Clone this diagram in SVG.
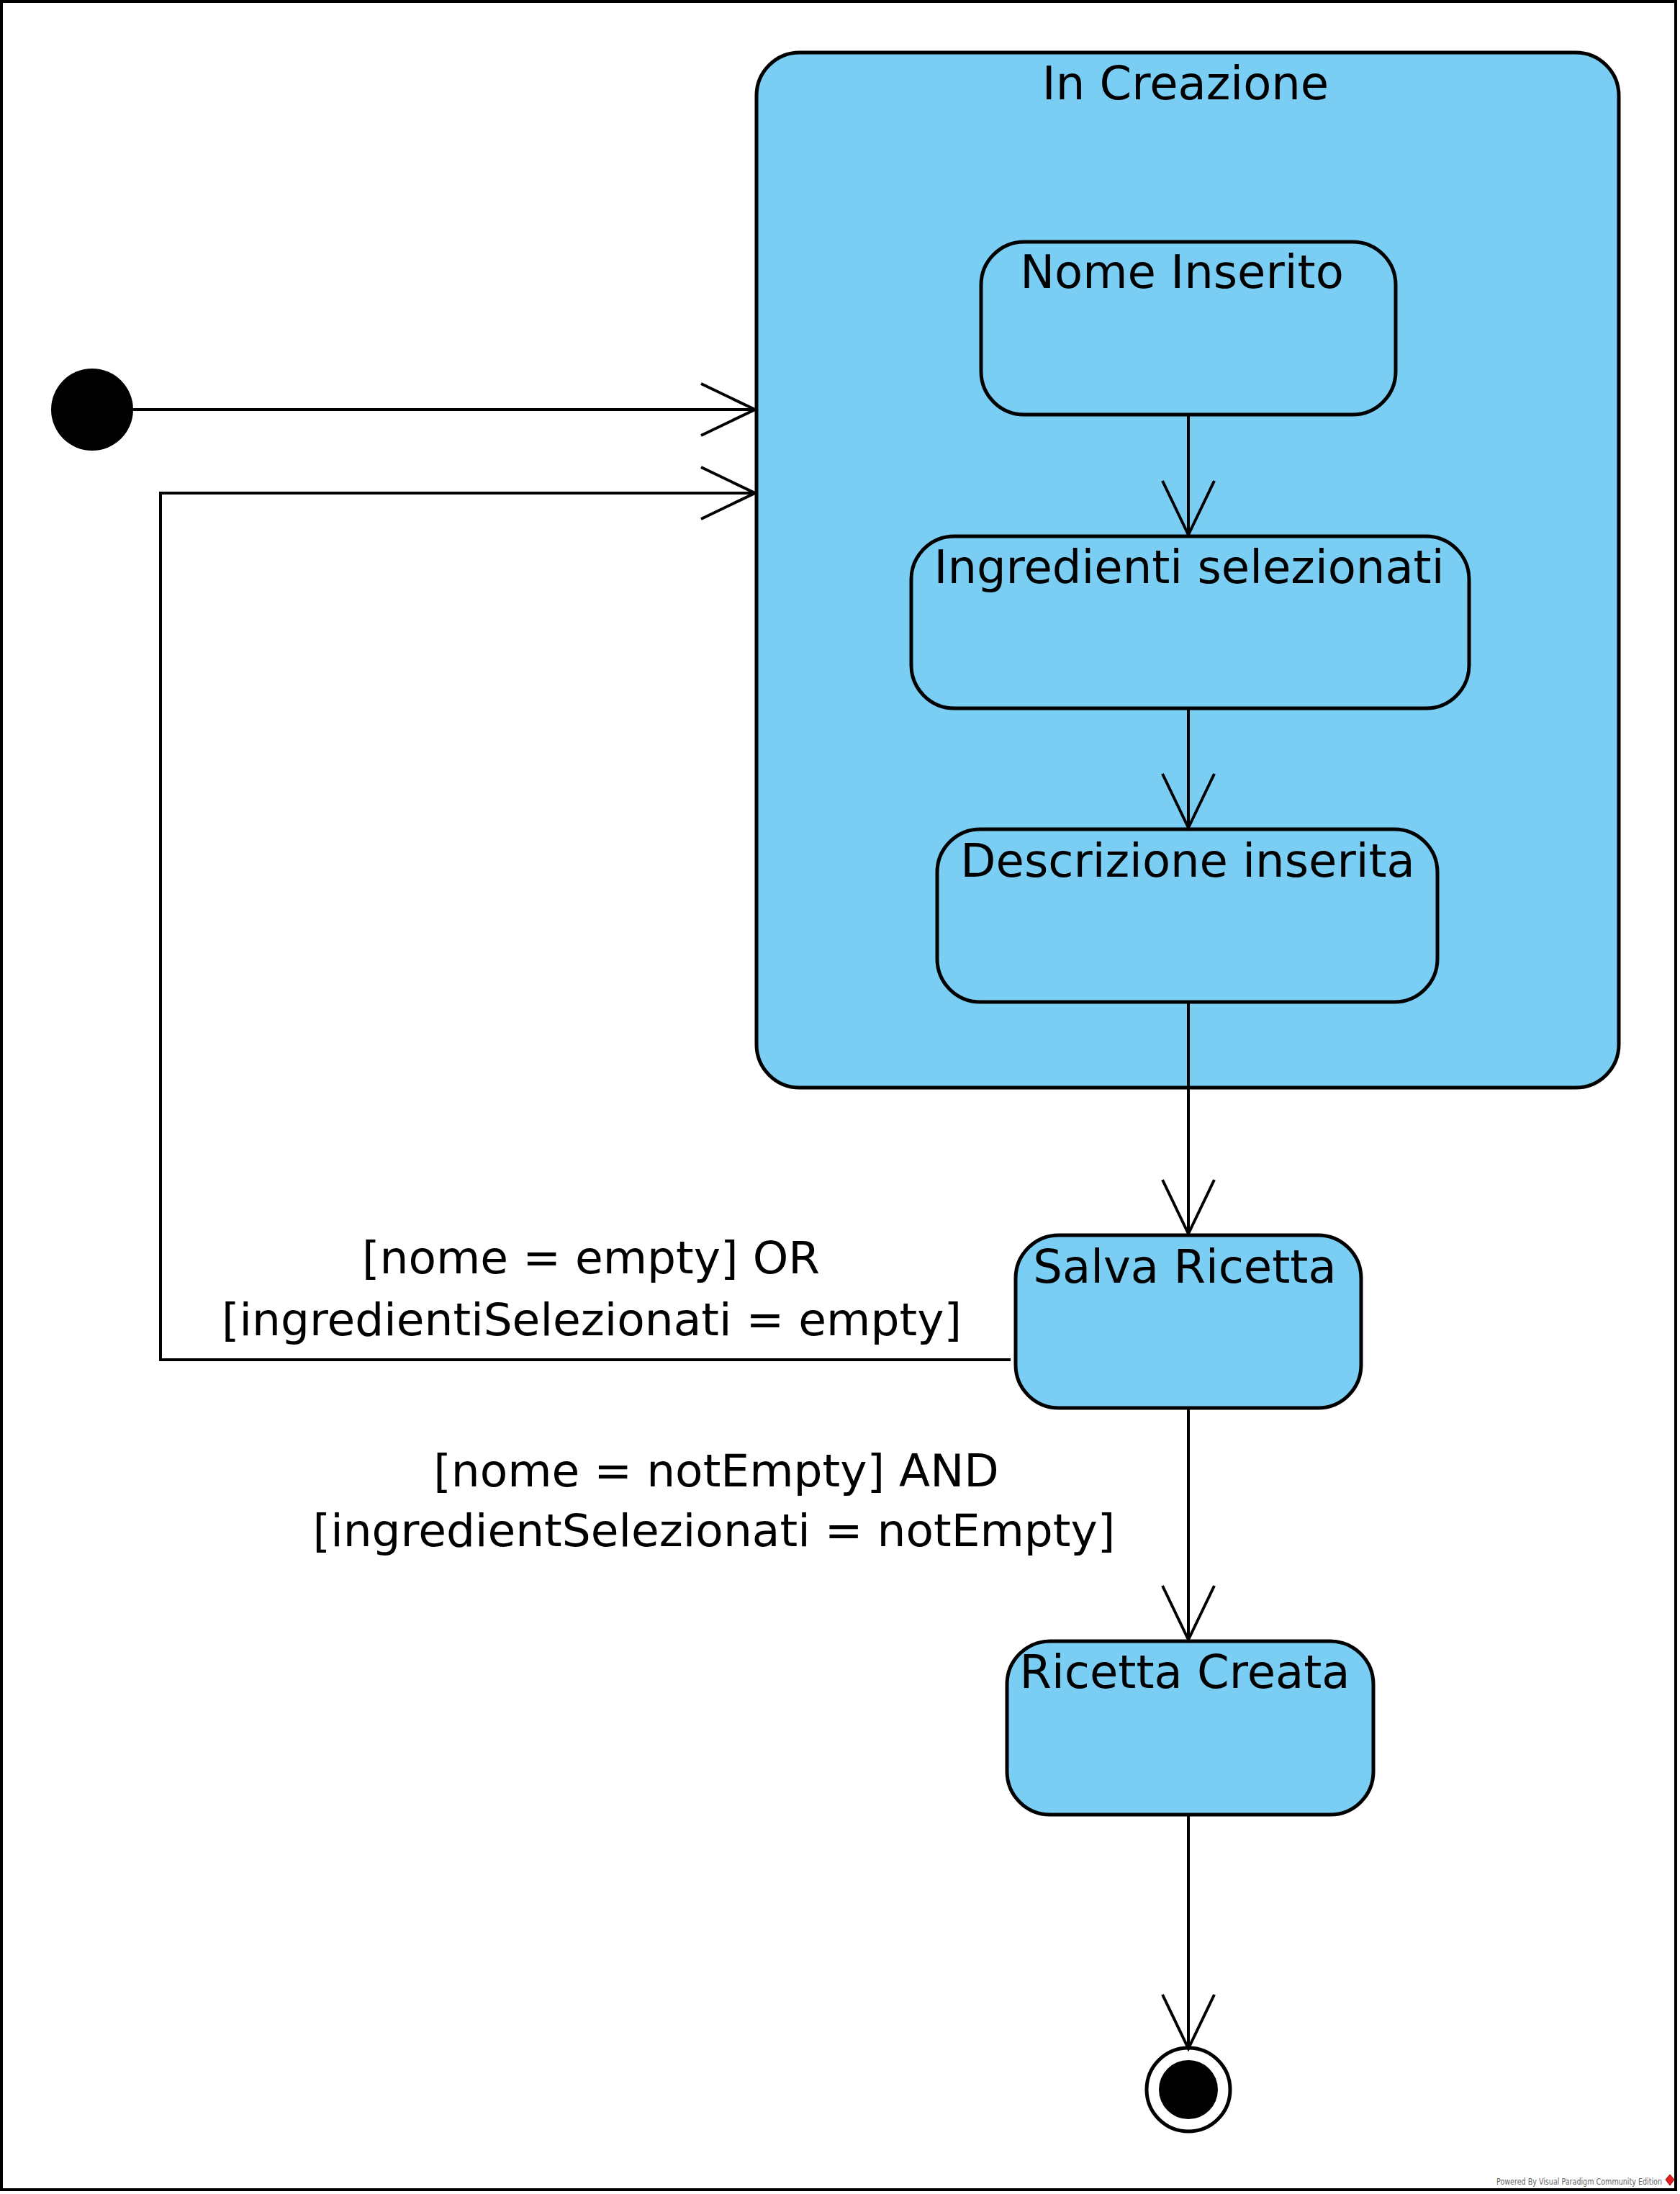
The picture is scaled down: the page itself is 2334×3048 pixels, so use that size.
<svg xmlns="http://www.w3.org/2000/svg" width="2334" height="3048" viewBox="0 0 2334 3048">
<style>
.bg{fill:#fff}
.frame{fill:none;stroke:#000;stroke-width:4}
.state{fill:#7ACEF4;stroke:#000;stroke-width:5}
.lbl{font-family:"DejaVu Sans","Liberation Sans",sans-serif;font-size:64px;fill:#000;text-anchor:middle}
.guard{font-family:"DejaVu Sans","Liberation Sans",sans-serif;font-size:63px;fill:#000;text-anchor:middle}
.conn{fill:none;stroke:#000;stroke-width:4}
.wm{font-family:"DejaVu Sans Condensed","DejaVu Sans",sans-serif;font-size:12px;fill:#666}
</style>
<defs>
<marker id="open" markerUnits="userSpaceOnUse" markerWidth="100" markerHeight="100" refX="80" refY="40" orient="auto" overflow="visible">
<path d="M5,4 L80,40 L5,76" fill="none" stroke="#000" stroke-width="4"/>
</marker>
</defs>
<rect class="bg" x="0" y="0" width="2334" height="3048"/>
<rect class="frame" x="2" y="2" width="2326" height="3040"/>

<g id="in-creazione">
<rect class="state" x="1051" y="73" width="1198" height="1438" rx="60" ry="60"/>
<text class="lbl" x="1647" y="138">In Creazione</text>
</g>
<g id="nome-inserito">
<rect class="state" x="1363" y="336" width="576" height="240" rx="60" ry="60"/>
<text class="lbl" x="1642" y="400">Nome Inserito</text>
</g>
<g id="ingredienti-selezionati">
<rect class="state" x="1266" y="745" width="775" height="239" rx="60" ry="60"/>
<text class="lbl" x="1652" y="810">Ingredienti selezionati</text>
</g>
<g id="descrizione-inserita">
<rect class="state" x="1302" y="1152" width="695" height="240" rx="60" ry="60"/>
<text class="lbl" x="1650" y="1218">Descrizione inserita</text>
</g>
<g id="salva-ricetta">
<rect class="state" x="1411" y="1716" width="480" height="240" rx="60" ry="60"/>
<text class="lbl" x="1646" y="1782">Salva Ricetta</text>
</g>
<g id="ricetta-creata">
<rect class="state" x="1399" y="2280" width="509" height="241" rx="60" ry="60"/>
<text class="lbl" x="1646" y="2345">Ricetta Creata</text>
</g>
<g id="initial">
<circle cx="128" cy="569" r="57" fill="#000"/>
</g>
<g id="final">
<circle cx="1651" cy="2903" r="58" fill="#fff" stroke="#000" stroke-width="5"/>
<circle cx="1651" cy="2903" r="41" fill="#000"/>
</g>

<g id="connectors">
<line class="conn" x1="185" y1="569" x2="1049" y2="569" marker-end="url(#open)"/>
<polyline class="conn" points="1404,1889 223,1889 223,685 1049,685" marker-end="url(#open)"/>
<line class="conn" x1="1651" y1="577" x2="1651" y2="743" marker-end="url(#open)"/>
<line class="conn" x1="1651" y1="984" x2="1651" y2="1150" marker-end="url(#open)"/>
<line class="conn" x1="1651" y1="1392" x2="1651" y2="1714" marker-end="url(#open)"/>
<line class="conn" x1="1651" y1="1956" x2="1651" y2="2278" marker-end="url(#open)"/>
<line class="conn" x1="1651" y1="2521" x2="1651" y2="2846" marker-end="url(#open)"/>
<text class="guard" x="821" y="1769">[nome = empty] OR</text>
<text class="guard" x="822" y="1855">[ingredientiSelezionati = empty]</text>
<text class="guard" x="995" y="2065">[nome = notEmpty] AND</text>
<text class="guard" x="992" y="2148">[ingredientSelezionati = notEmpty]</text>
</g>

<g id="watermark">
<text class="wm" x="2079" y="3035" textLength="230" lengthAdjust="spacingAndGlyphs">Powered By Visual Paradigm Community Edition</text>
<path d="M2320,3021 L2326,3028 L2320,3036 L2314,3028 Z" fill="#d22" stroke="#a00" stroke-width="1"/>
</g>
</svg>
